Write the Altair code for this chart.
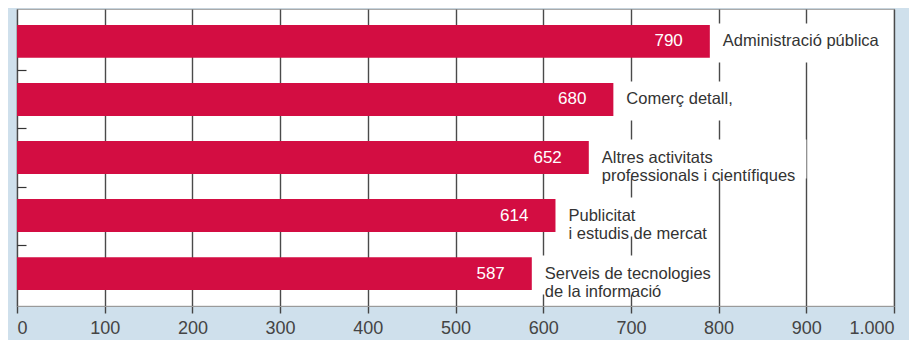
import altair as alt
import pandas as pd

categories = [
    "Administració pública",
    "Comerç detall,",
    "Altres activitats|professionals i científiques",
    "Publicitat|i estudis de mercat",
    "Serveis de tecnologies|de la informació",
]
values = [790, 680, 652, 614, 587]
tick_values = list(range(0, 1001, 100))

df = pd.DataFrame({"cat": categories, "value": values})

FONT = "Liberation Sans"
BAR = "#d30d42"
last_cat = categories[-1]
PX = 1000 / 877  # data units per pixel on the x scale

y_enc = alt.Y(
    "cat:N",
    sort=None,
    scale=alt.Scale(paddingInner=0.4335, paddingOuter=0.275),
    axis=alt.Axis(
        title=None, labels=False, domain=False, ticks=True, grid=False,
        bandPosition=1, tickExtra=False, tickOffset=12.6,
        tickSize=9, offset=-9, tickWidth=1.2,
        tickColor=alt.condition(f"datum.value === '{last_cat}'", alt.value("transparent"), alt.value("#333")),
    ),
)
x_enc = alt.X(
    "value:Q",
    scale=alt.Scale(domain=[0, 1000], nice=False, zero=True),
    axis=alt.Axis(
        title=None, values=tick_values, grid=True, gridColor="#4a4a4a", gridWidth=1.4,
        domainColor="#9a9a9a", domainWidth=1.2, tickColor="#444", tickSize=7, tickWidth=1.4,
        labelFont=FONT, labelFontSize=18, labelColor="#444", labelPadding=6,
        labelExpr="replace(format(datum.value, ','), ',', '.')",
    ),
)

base = alt.Chart(df)

bars = base.mark_bar(color=BAR).encode(x=x_enc, y=y_enc)

# white box behind each category label (hides the grid lines, as in the original)
label_box = base.transform_calculate(
    nchar="max(length(split(datum.cat, '|')[0]), length(split(datum.cat, '|')[1] || ''))",
).transform_calculate(
    x_start=f"datum.value + 4 * {PX}",
    x_end=f"datum.value + (16 + datum.nchar * 7.2) * {PX}",
).mark_bar(color="white", size=39, yOffset=1.5).encode(
    x="x_start:Q", x2="x_end:Q", y=alt.Y("cat:N", sort=None)
)

val_text = base.mark_text(
    align="right", baseline="middle", dx=-27, font=FONT, fontSize=17, color="white"
).encode(x="value:Q", y=alt.Y("cat:N", sort=None), text="value:Q")

cat_text = base.mark_text(
    align="left", baseline="middle", dx=13, font=FONT, fontSize=16.5, lineBreak="|",
    lineHeight=18, color="#333",
).encode(x="value:Q", y=alt.Y("cat:N", sort=None), text="cat:N")

chart = (
    alt.layer(bars, label_box, cat_text, val_text)
    .properties(
        width=877, height=297,
        padding={"left": 9, "top": 1, "right": 15, "bottom": 34},
        autosize=alt.AutoSizeParams(type="none"),
        background="#cfe0ec",
    )
    .configure_view(fill="white", stroke="#aaaaaa", strokeWidth=1.2)
)

chart.save("out.html", embed_options={"renderer": "svg", "actions": False})
